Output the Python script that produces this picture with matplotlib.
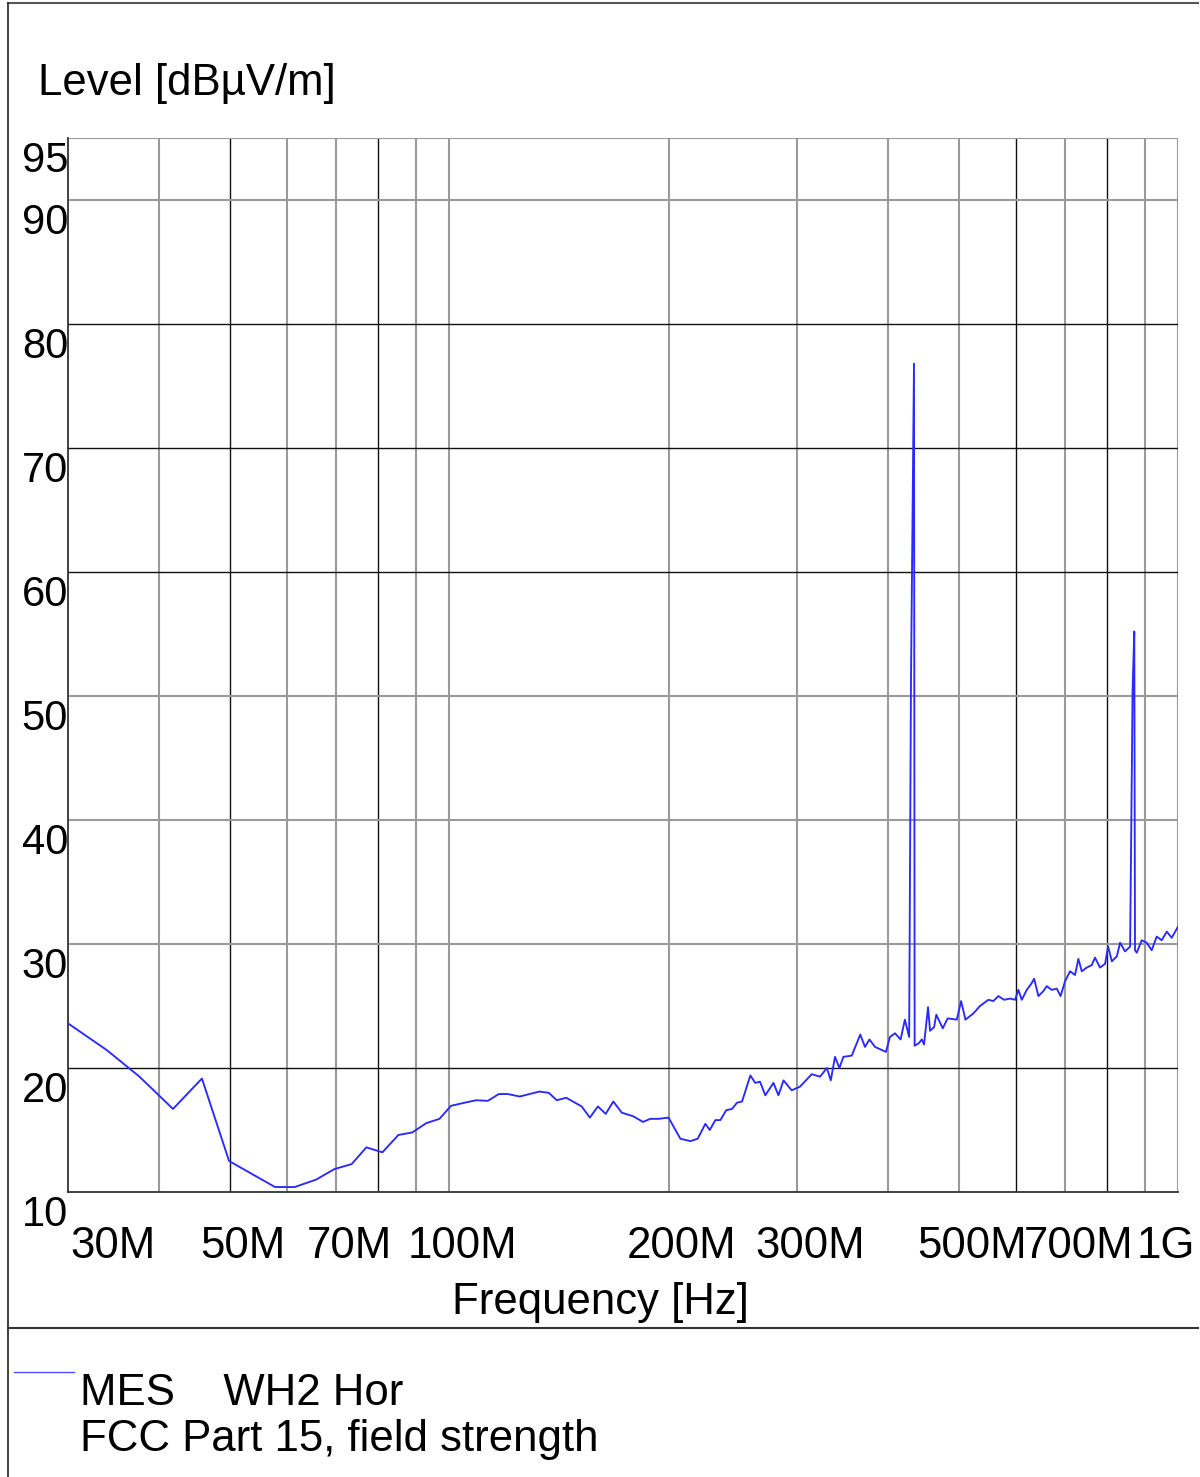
import matplotlib
matplotlib.use("Agg")
import matplotlib.pyplot as plt
from matplotlib.lines import Line2D
from matplotlib.transforms import offset_copy, blended_transform_factory

# Measured emission level (MES, WH2 horizontal), frequency in MHz, level in dBuV/m
freq_mhz = [
    30.0, 33.9, 37.6, 41.8, 45.8, 49.9, 57.7, 61.4, 65.7, 69.6,
    73.5, 77.0, 81.0, 85.2, 89.0, 93.0, 97.0, 100.6, 105.0, 108.9,
    113.0, 117.0, 120.4, 125.0, 129.0, 133.0, 137.0, 140.5, 144.8, 152.0,
    156.0, 160.0, 164.0, 168.0, 172.5, 179.0, 184.5, 188.8, 193.8, 200.0,
    207.6, 214.3, 219.3, 224.7, 227.8, 231.9, 235.6, 240.0, 244.4, 248.3,
    252.3, 259.0, 263.0, 267.0, 271.5, 278.6, 283.0, 287.6, 295.1, 303.0,
    314.4, 322.8, 329.8, 333.9, 338.4, 343.1, 347.5, 356.8, 366.5, 372.0,
    377.3, 384.0, 397.5, 402.5, 409.0, 416.3, 422.0, 427.7, 430.2, 434.3,
    435.2, 441.0, 445.2, 448.3, 454.0, 456.9, 462.8, 466.0, 475.6, 483.0,
    497.2, 504.0, 511.0, 523.9, 535.0, 549.4, 558.1, 567.0, 577.3, 588.3,
    597.6, 604.0, 610.4, 620.2, 630.0, 634.8, 643.4, 653.5, 660.6, 671.1,
    681.9, 690.0, 700.0, 711.0, 722.3, 730.0, 737.8, 749.6, 761.5, 769.4,
    781.7, 794.2, 802.0, 811.3, 824.2, 832.8, 846.1, 859.6, 866.4, 871.0,
    873.0, 877.9, 891.7, 905.9, 920.3, 935.0, 949.9, 965.0, 980.4, 1000.0,
]
level_dbuv = [
    23.6, 21.45, 19.3, 16.7, 19.15, 12.5, 10.4, 10.4, 11.0, 11.85,
    12.25, 13.6, 13.2, 14.6, 14.8, 15.55, 15.9, 16.95, 17.2, 17.4,
    17.35, 17.9, 17.9, 17.7, 17.9, 18.1, 18.0, 17.4, 17.6, 16.9,
    16.0, 16.9, 16.3, 17.3, 16.4, 16.1, 15.65, 15.9, 15.9, 16.0,
    14.3, 14.1, 14.3, 15.5, 15.0, 15.8, 15.8, 16.6, 16.7, 17.2,
    17.3, 19.4, 18.8, 18.9, 17.8, 18.8, 17.8, 19.0, 18.2, 18.5,
    19.5, 19.3, 20.0, 19.0, 20.9, 20.0, 20.9, 21.0, 22.7, 21.7,
    22.3, 21.7, 21.3, 22.5, 22.8, 22.3, 23.9, 22.5, 51.3, 76.8,
    21.8, 22.0, 22.3, 21.9, 24.9, 23.0, 23.3, 24.3, 23.2, 24.0,
    23.9, 25.4, 23.9, 24.4, 25.0, 25.5, 25.4, 25.8, 25.5, 25.6,
    25.5, 26.3, 25.5, 26.3, 26.85, 27.2, 25.8, 26.2, 26.6, 26.3,
    26.4, 25.8, 27.0, 27.8, 27.5, 28.8, 27.8, 28.1, 28.3, 28.9,
    28.1, 28.4, 29.8, 28.6, 29.0, 30.1, 29.4, 29.8, 50.5, 55.2,
    29.5, 29.3, 30.3, 30.1, 29.5, 30.6, 30.3, 31.0, 30.5, 31.4,
]

# Axis ticks
y_ticks = [10, 20, 30, 40, 50, 60, 70, 80, 90, 95]
x_ticks_mhz = [30, 50, 70, 100, 200, 300, 500, 700, 1000]
x_tick_labels = ["30M", "50M", "70M", "100M", "200M", "300M", "500M", "700M", "1G"]
x_grid_mhz = [40, 50, 60, 70, 80, 90, 100, 200, 300, 400, 500, 600, 700, 800, 900]
x_grid_dark = [50, 80, 600, 800]
y_grid = [20, 30, 40, 50, 60, 70, 80, 90, 95]
y_grid_dark = [20, 60, 70, 80]

plt.rcParams["font.family"] = ["Liberation Sans", "DejaVu Sans"]
FS = 31.5

W, H = 1200, 1477
fig = plt.figure(figsize=(W / 100, H / 100), dpi=100)


def fx(x):
    return x / W


def fy(y):
    return 1 - y / H


ax = fig.add_axes([fx(68), fy(1192), (1178 - 68) / W, (1192 - 138) / H])
ax.set_xscale("log")
ax.set_xlim(30, 1000)
ax.set_ylim(10, 95)
ax.minorticks_off()
ax.set_xticks(x_ticks_mhz)
ax.set_yticks(y_ticks)
ax.tick_params(length=0, labelbottom=False, labelleft=False)

for s in ("top", "right"):
    ax.spines[s].set_visible(False)
for s in ("left", "bottom"):
    ax.spines[s].set_color("#333333")
    ax.spines[s].set_linewidth(1.3)

# Grid
for f in x_grid_mhz + [1000]:
    dark = f in x_grid_dark
    ax.axvline(f, color="#111111" if dark else "#9a9a9a",
               lw=1.0 if dark else 1.5, zorder=1)
for v in y_grid:
    dark = v in y_grid_dark
    ax.axhline(v, color="#111111" if dark else "#9a9a9a",
               lw=1.0 if dark else 1.5, zorder=1)

# Measurement trace
ax.plot(freq_mhz, level_dbuv, color="#2a2aff", lw=1.35, zorder=3)

# Y tick labels below their grid lines
ytr = blended_transform_factory(ax.transAxes, ax.transData)
ytr = offset_copy(ytr, fig=fig, x=0, y=-3, units="dots")
for v in y_ticks:
    ax.text(0.0, v, str(v), transform=ytr, ha="right", va="top",
            fontsize=30, color="black", clip_on=False)

# X tick labels
xtr_base = blended_transform_factory(ax.transData, ax.transAxes)
for f, lab in zip(x_ticks_mhz, x_tick_labels):
    if f == x_ticks_mhz[0]:
        tr = offset_copy(xtr_base, fig=fig, x=2, y=-34, units="dots")
        ha = "left"
    elif f == x_ticks_mhz[-1]:
        tr = offset_copy(xtr_base, fig=fig, x=17, y=-34, units="dots")
        ha = "right"
    else:
        tr = offset_copy(xtr_base, fig=fig, x=13, y=-34, units="dots")
        ha = "center"
    ax.text(f, 0.0, lab, transform=tr, ha=ha, va="top", fontsize=FS,
            clip_on=False)

# Titles
fig.text(fx(38), fy(63), "Level [dBµV/m]", ha="left", va="top", fontsize=FS)
fig.text(fx(600), fy(1282), "Frequency [Hz]", ha="center", va="top", fontsize=FS)

# Frame and separator lines
fig.add_artist(Line2D([fx(8), fx(1198)], [fy(3), fy(3)], color="#555555",
                      lw=1.5, transform=fig.transFigure))
fig.add_artist(Line2D([fx(8), fx(8)], [fy(3), fy(1477)], color="#333333",
                      lw=1.3, transform=fig.transFigure))
fig.add_artist(Line2D([fx(8), fx(1198)], [fy(1328), fy(1328)], color="#333333",
                      lw=1.5, transform=fig.transFigure))

# Legend block
fig.add_artist(Line2D([fx(14), fx(74)], [fy(1372), fy(1372)], color="#4455ff",
                      lw=1.0, transform=fig.transFigure))
fig.text(fx(80), fy(1373), "MES    WH2 Hor", ha="left", va="top", fontsize=FS)
fig.text(fx(80), fy(1419), "FCC Part 15, field strength", ha="left", va="top",
         fontsize=FS)

fig.savefig("out.png", dpi=100)
